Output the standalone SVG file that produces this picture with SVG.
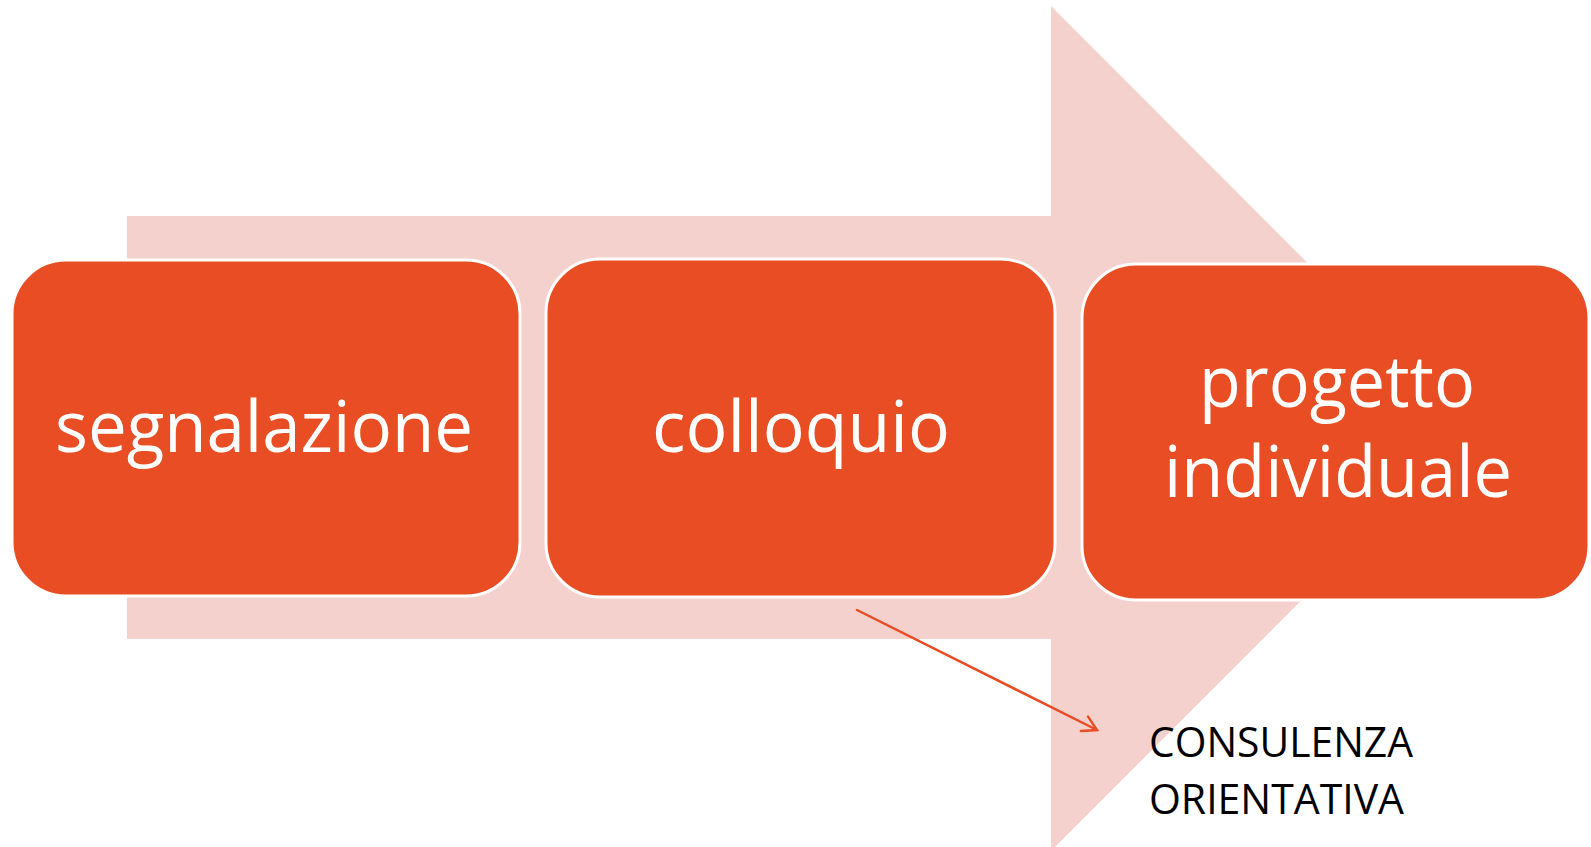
<svg xmlns="http://www.w3.org/2000/svg" width="1591" height="847" viewBox="0 0 1591 847">
  <defs>
    <style>
      .band { fill: #F5D1CD; }
      .step { fill: #E84D23; stroke: #FFFFFF; stroke-width: 3; }
      .step-label { fill: #FFFFFF; font-family: "Open Sans", "Noto Sans", sans-serif; font-size: 72px; text-anchor: middle; }
      .note { fill: #000000; font-family: "Open Sans", "Noto Sans", sans-serif; font-size: 42px; }
      .link { fill: none; stroke: #E84D23; stroke-width: 2.5; stroke-linecap: round; }
    </style>
    <marker id="open-head" viewBox="0 0 20 20" refX="18" refY="10" markerWidth="20" markerHeight="20" markerUnits="userSpaceOnUse" orient="auto">
      <path d="M4,2 L18,10 L4,18" fill="none" stroke="#E84D23" stroke-width="2.5" stroke-linecap="round"/>
    </marker>
  </defs>

  <!-- background process arrow -->
  <path class="band" d="M127,216 H1051 V6 L1473,428.5 L1051,851 V639 H127 Z"/>

  <g id="node-segnalazione">
    <rect class="step" x="12" y="260" width="508" height="336" rx="54" ry="54"/>
    <text class="step-label" x="264" y="452" textLength="418" lengthAdjust="spacingAndGlyphs">segnalazione</text>
  </g>

  <g id="node-colloquio">
    <rect class="step" x="546" y="259" width="509" height="338" rx="54" ry="54"/>
    <text class="step-label" x="801" y="452" textLength="298" lengthAdjust="spacingAndGlyphs">colloquio</text>
  </g>

  <g id="node-progetto">
    <rect class="step" x="1082" y="264" width="507" height="336" rx="54" ry="54"/>
    <text class="step-label" x="1337" y="407" textLength="276" lengthAdjust="spacingAndGlyphs">progetto</text>
    <text class="step-label" x="1338" y="497" textLength="348" lengthAdjust="spacingAndGlyphs">individuale</text>
  </g>

  <g id="connectors">
    <line class="link" x1="857" y1="610" x2="1097" y2="730" marker-end="url(#open-head)"/>
  </g>

  <g id="node-consulenza">
    <text class="note" x="1149" y="757" textLength="264" lengthAdjust="spacingAndGlyphs">CONSULENZA</text>
    <text class="note" x="1149" y="814" textLength="255" lengthAdjust="spacingAndGlyphs">ORIENTATIVA</text>
  </g>
</svg>
